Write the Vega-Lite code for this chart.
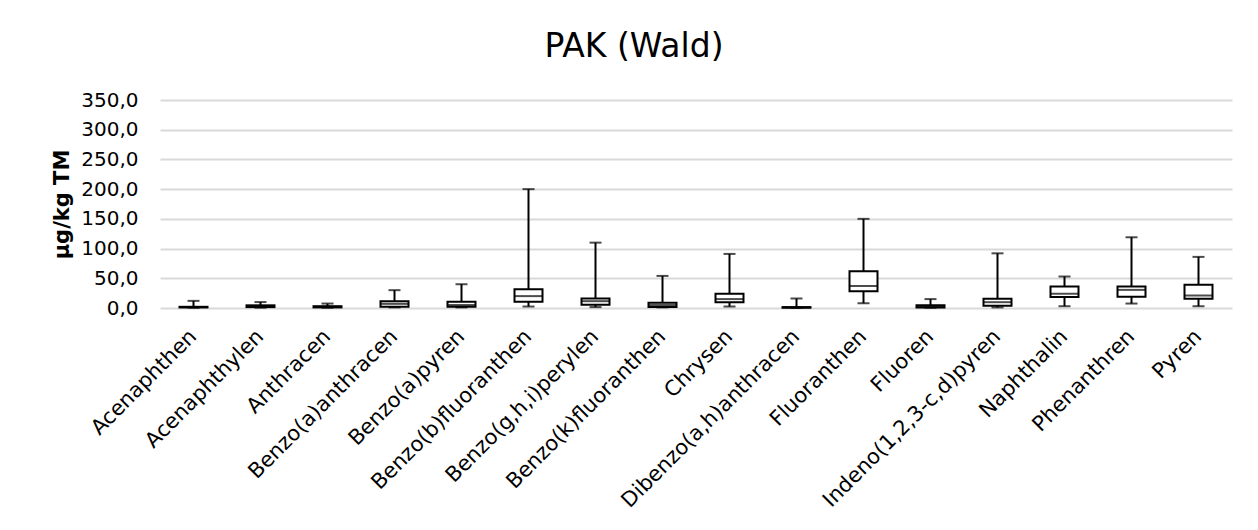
{
  "$schema": "https://vega.github.io/schema/vega-lite/v6.json",
  "width": 1072,
  "height": 208,
  "autosize": "none",
  "padding": {"left": 160, "top": 100, "right": 26, "bottom": 222},
  "background": "white",
  "title": {
    "text": "PAK (Wald)",
    "font": "DejaVu Sans",
    "fontSize": 33,
    "fontWeight": "normal",
    "color": "#000000",
    "anchor": "middle",
    "frame": "group",
    "dx": -62,
    "dy": 10,
    "baseline": "alphabetic",
    "offset": 10
  },
  "data": {
    "values": [
      {"name": "Acenaphthen", "min": 0.5, "q1": 1, "median": 1.5, "q3": 2, "max": 12},
      {"name": "Acenaphthylen", "min": 0.5, "q1": 1.5, "median": 3, "q3": 4.5, "max": 10},
      {"name": "Anthracen", "min": 0.5, "q1": 1, "median": 2, "q3": 3, "max": 7.5},
      {"name": "Benzo(a)anthracen", "min": 1, "q1": 2, "median": 7, "q3": 11.5, "max": 30},
      {"name": "Benzo(a)pyren", "min": 1, "q1": 2, "median": 5, "q3": 10.5, "max": 40},
      {"name": "Benzo(b)fluoranthen", "min": 2.5, "q1": 10.5, "median": 20, "q3": 31.5, "max": 200},
      {"name": "Benzo(g,h,i)perylen", "min": 1.5, "q1": 5.5, "median": 11.5, "q3": 16, "max": 110},
      {"name": "Benzo(k)fluoranthen", "min": 1, "q1": 1.5, "median": 5, "q3": 9, "max": 54},
      {"name": "Chrysen", "min": 2.5, "q1": 9.5, "median": 15, "q3": 24, "max": 91},
      {"name": "Dibenzo(a,h)anthracen", "min": 0.3, "q1": 0.5, "median": 1, "q3": 1.5, "max": 16},
      {"name": "Fluoranthen", "min": 8, "q1": 28, "median": 37, "q3": 62, "max": 150},
      {"name": "Fluoren", "min": 0.5, "q1": 1, "median": 2.5, "q3": 4.5, "max": 15},
      {"name": "Indeno(1,2,3-c,d)pyren", "min": 1, "q1": 3.7, "median": 9.8, "q3": 15.5, "max": 92},
      {"name": "Naphthalin", "min": 3, "q1": 18.5, "median": 24, "q3": 36, "max": 53},
      {"name": "Phenanthren", "min": 7.5, "q1": 19, "median": 30.5, "q3": 36, "max": 119},
      {"name": "Pyren", "min": 3, "q1": 15.5, "median": 21, "q3": 39, "max": 86}
    ]
  },
  "encoding": {
    "x": {
      "field": "name",
      "type": "nominal",
      "sort": null,
      "scale": {"paddingInner": 0, "paddingOuter": 0},
      "axis": {
        "title": null,
        "labelAngle": -45,
        "labelAlign": "right",
        "labelBaseline": "middle",
        "labelFont": "DejaVu Sans",
        "labelFontSize": 21,
        "labelColor": "#000000",
        "labelPadding": 25,
        "labelOverlap": false,
        "ticks": false,
        "domain": false,
        "grid": false,
        "labelLimit": 0
      }
    }
  },
  "layer": [
    {
      "mark": {"type": "rule", "color": "#000000", "strokeWidth": 2},
      "encoding": {
        "y": {
          "field": "min",
          "type": "quantitative",
          "scale": {"domain": [0, 350], "nice": false},
          "axis": {
            "values": [0, 50, 100, 150, 200, 250, 300, 350],
            "labelExpr": "replace(format(datum.value, '.1f'), '.', ',')",
            "labelFont": "DejaVu Sans",
            "labelFontSize": 20,
            "labelColor": "#000000",
            "labelPadding": 22,
            "labelOverlap": false,
            "labelBound": false,
            "labelFlush": false,
            "ticks": false,
            "domain": false,
            "grid": true,
            "gridColor": "#d9d9d9",
            "gridWidth": 2,
            "title": "µg/kg TM",
            "titleFont": "DejaVu Sans",
            "titleFontSize": 21,
            "titleFontWeight": "bold",
            "titleColor": "#000000",
            "titleAngle": -90,
            "titleAlign": "center",
            "titleBaseline": "bottom",
            "titleX": -88,
            "titleY": 104
          }
        },
        "y2": {"field": "max"}
      }
    },
    {
      "mark": {"type": "bar", "width": 28, "fill": "#ffffff", "stroke": "#000000", "strokeWidth": 2},
      "encoding": {
        "y": {
          "field": "q1",
          "type": "quantitative",
          "scale": {"domain": [0, 350], "nice": false},
          "axis": {
            "values": [0, 50, 100, 150, 200, 250, 300, 350],
            "labelExpr": "replace(format(datum.value, '.1f'), '.', ',')",
            "labelFont": "DejaVu Sans",
            "labelFontSize": 20,
            "labelColor": "#000000",
            "labelPadding": 22,
            "labelOverlap": false,
            "labelBound": false,
            "labelFlush": false,
            "ticks": false,
            "domain": false,
            "grid": true,
            "gridColor": "#d9d9d9",
            "gridWidth": 2,
            "title": "µg/kg TM",
            "titleFont": "DejaVu Sans",
            "titleFontSize": 21,
            "titleFontWeight": "bold",
            "titleColor": "#000000",
            "titleAngle": -90,
            "titleAlign": "center",
            "titleBaseline": "bottom",
            "titleX": -88,
            "titleY": 104
          }
        },
        "y2": {"field": "q3"}
      }
    },
    {
      "mark": {"type": "tick", "size": 28, "thickness": 2, "color": "#000000"},
      "encoding": {
        "y": {
          "field": "median",
          "type": "quantitative",
          "scale": {"domain": [0, 350], "nice": false},
          "axis": {
            "values": [0, 50, 100, 150, 200, 250, 300, 350],
            "labelExpr": "replace(format(datum.value, '.1f'), '.', ',')",
            "labelFont": "DejaVu Sans",
            "labelFontSize": 20,
            "labelColor": "#000000",
            "labelPadding": 22,
            "labelOverlap": false,
            "labelBound": false,
            "labelFlush": false,
            "ticks": false,
            "domain": false,
            "grid": true,
            "gridColor": "#d9d9d9",
            "gridWidth": 2,
            "title": "µg/kg TM",
            "titleFont": "DejaVu Sans",
            "titleFontSize": 21,
            "titleFontWeight": "bold",
            "titleColor": "#000000",
            "titleAngle": -90,
            "titleAlign": "center",
            "titleBaseline": "bottom",
            "titleX": -88,
            "titleY": 104
          }
        }
      }
    },
    {
      "mark": {"type": "tick", "size": 12, "thickness": 2, "color": "#000000"},
      "encoding": {
        "y": {
          "field": "max",
          "type": "quantitative",
          "scale": {"domain": [0, 350], "nice": false},
          "axis": {
            "values": [0, 50, 100, 150, 200, 250, 300, 350],
            "labelExpr": "replace(format(datum.value, '.1f'), '.', ',')",
            "labelFont": "DejaVu Sans",
            "labelFontSize": 20,
            "labelColor": "#000000",
            "labelPadding": 22,
            "labelOverlap": false,
            "labelBound": false,
            "labelFlush": false,
            "ticks": false,
            "domain": false,
            "grid": true,
            "gridColor": "#d9d9d9",
            "gridWidth": 2,
            "title": "µg/kg TM",
            "titleFont": "DejaVu Sans",
            "titleFontSize": 21,
            "titleFontWeight": "bold",
            "titleColor": "#000000",
            "titleAngle": -90,
            "titleAlign": "center",
            "titleBaseline": "bottom",
            "titleX": -88,
            "titleY": 104
          }
        }
      }
    },
    {
      "mark": {"type": "tick", "size": 12, "thickness": 2, "color": "#000000"},
      "encoding": {
        "y": {
          "field": "min",
          "type": "quantitative",
          "scale": {"domain": [0, 350], "nice": false},
          "axis": {
            "values": [0, 50, 100, 150, 200, 250, 300, 350],
            "labelExpr": "replace(format(datum.value, '.1f'), '.', ',')",
            "labelFont": "DejaVu Sans",
            "labelFontSize": 20,
            "labelColor": "#000000",
            "labelPadding": 22,
            "labelOverlap": false,
            "labelBound": false,
            "labelFlush": false,
            "ticks": false,
            "domain": false,
            "grid": true,
            "gridColor": "#d9d9d9",
            "gridWidth": 2,
            "title": "µg/kg TM",
            "titleFont": "DejaVu Sans",
            "titleFontSize": 21,
            "titleFontWeight": "bold",
            "titleColor": "#000000",
            "titleAngle": -90,
            "titleAlign": "center",
            "titleBaseline": "bottom",
            "titleX": -88,
            "titleY": 104
          }
        }
      }
    }
  ],
  "config": {
    "view": {"stroke": null}
  }
}
